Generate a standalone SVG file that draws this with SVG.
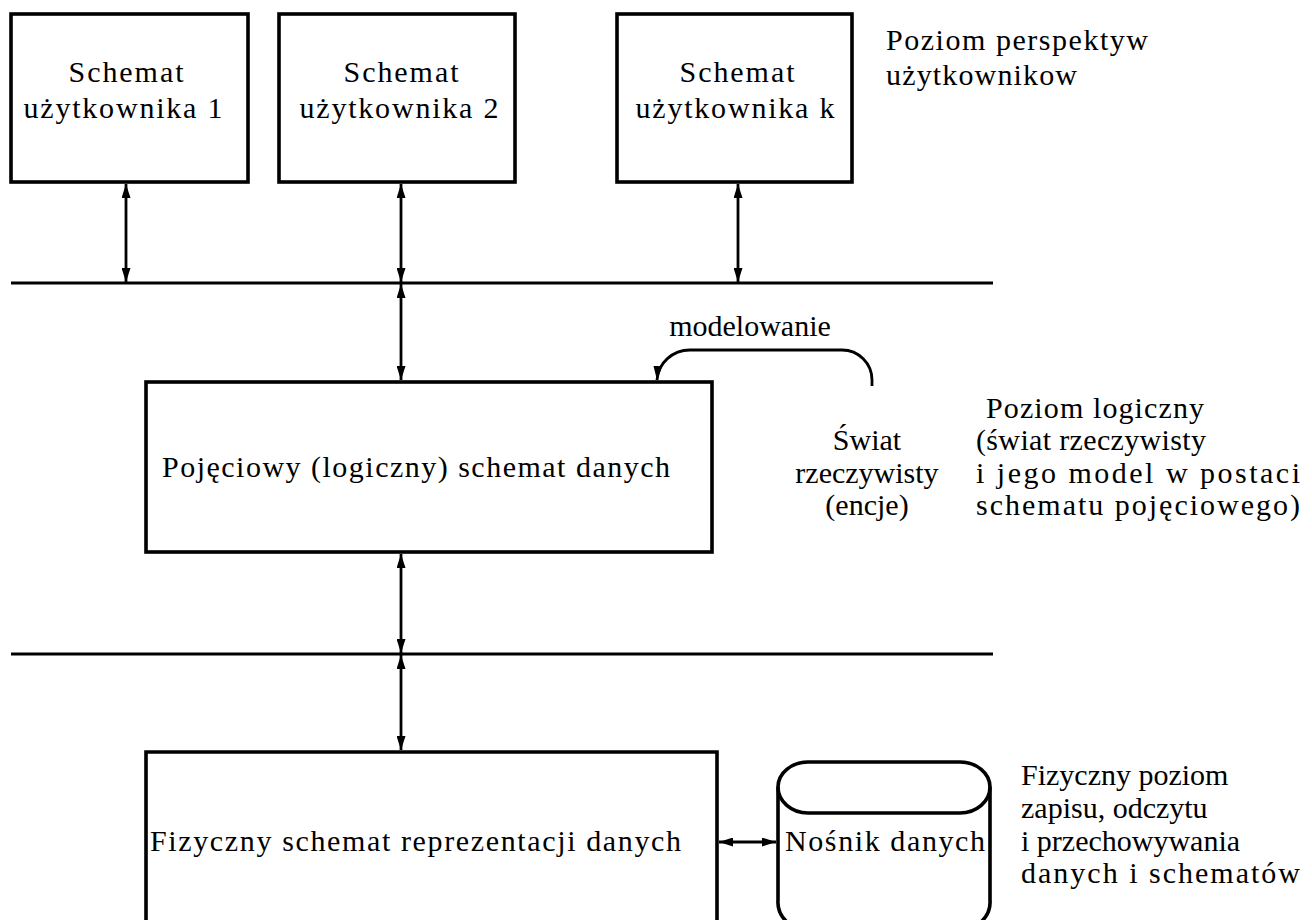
<svg xmlns="http://www.w3.org/2000/svg" width="1312" height="920" viewBox="0 0 1312 920">
<style>
.box{fill:none;stroke:#000;stroke-width:3.6}
.ln{fill:none;stroke:#000;stroke-width:2.8}
.t{font-family:"Liberation Serif","DejaVu Serif",serif;font-size:30px;fill:#000}
.c{text-anchor:middle}
</style>
<defs>
<marker id="ah" viewBox="0 0 14 9" refX="14" refY="4.5" markerWidth="14" markerHeight="9" markerUnits="userSpaceOnUse" orient="auto-start-reverse">
<path d="M0,0 L14,4.5 L0,9 Z" fill="#000"/>
</marker>
</defs>
<rect width="1312" height="920" fill="#fff"/>

<g id="connectors">
<line class="ln" x1="11" y1="283" x2="993" y2="283"/>
<line class="ln" x1="11" y1="654" x2="993" y2="654"/>
<line class="ln" x1="126" y1="184" x2="126" y2="282" marker-start="url(#ah)" marker-end="url(#ah)"/>
<line class="ln" x1="401" y1="184" x2="401" y2="282" marker-start="url(#ah)" marker-end="url(#ah)"/>
<line class="ln" x1="738" y1="184" x2="738" y2="282" marker-start="url(#ah)" marker-end="url(#ah)"/>
<line class="ln" x1="401" y1="284" x2="401" y2="380" marker-start="url(#ah)" marker-end="url(#ah)"/>
<line class="ln" x1="401" y1="554" x2="401" y2="653" marker-start="url(#ah)" marker-end="url(#ah)"/>
<line class="ln" x1="401" y1="655" x2="401" y2="750" marker-start="url(#ah)" marker-end="url(#ah)"/>
<line class="ln" x1="719" y1="842" x2="776" y2="842" marker-start="url(#ah)" marker-end="url(#ah)"/>
<path class="ln" d="M872,386 L872,380 A30,30 0 0 0 842,350 L690,350 A33,32 0 0 0 657,380" marker-end="url(#ah)"/>
</g>

<g id="user1">
<rect class="box" x="11" y="14" width="237" height="168"/>
<text class="t c" x="126" y="82" textLength="115" lengthAdjust="spacing">Schemat</text>
<text class="t c" x="123" y="118" textLength="199" lengthAdjust="spacing">użytkownika 1</text>
</g>
<g id="user2">
<rect class="box" x="279" y="14" width="236" height="168"/>
<text class="t c" x="401" y="82" textLength="115" lengthAdjust="spacing">Schemat</text>
<text class="t c" x="399" y="118" textLength="199" lengthAdjust="spacing">użytkownika 2</text>
</g>
<g id="userk">
<rect class="box" x="617" y="14" width="235" height="168"/>
<text class="t c" x="737" y="82" textLength="115" lengthAdjust="spacing">Schemat</text>
<text class="t c" x="735" y="118" textLength="199" lengthAdjust="spacing">użytkownika k</text>
</g>
<g id="label-perspektyw">
<text class="t" x="886" y="50" textLength="262" lengthAdjust="spacing">Poziom perspektyw</text>
<text class="t" x="886" y="85" textLength="191" lengthAdjust="spacing">użytkownikow</text>
</g>

<g id="logiczny">
<rect class="box" x="146" y="382" width="566" height="170"/>
<text class="t" x="162" y="477" textLength="508" lengthAdjust="spacing">Pojęciowy (logiczny) schemat danych</text>
</g>
<g id="modelowanie">
<text class="t c" x="750" y="336">modelowanie</text>
</g>
<g id="swiat">
<text class="t c" x="867" y="450">Świat</text>
<text class="t c" x="867" y="483">rzeczywisty</text>
<text class="t c" x="867" y="515">(encje)</text>
</g>
<g id="label-logiczny">
<text class="t" x="986" y="418" textLength="218" lengthAdjust="spacing">Poziom logiczny</text>
<text class="t" x="976" y="450" textLength="230" lengthAdjust="spacing">(świat rzeczywisty</text>
<text class="t" x="976" y="483" textLength="324" lengthAdjust="spacing">i jego model w postaci</text>
<text class="t" x="976" y="515" textLength="324" lengthAdjust="spacing">schematu pojęciowego)</text>
</g>

<g id="fizyczny">
<path class="box" d="M146,925 L146,752 L717,752 L717,925"/>
<text class="t" x="150" y="851" textLength="531" lengthAdjust="spacing">Fizyczny schemat reprezentacji danych</text>
</g>
<g id="nosnik">
<path class="box" d="M808,930 A30,28 0 0 1 778,900 L778,787 A30,25 0 0 1 808,762 L960,762 A30,25 0 0 1 990,787 L990,900 A30,28 0 0 1 960,930"/>
<path class="box" d="M778,787 A30,26 0 0 0 808,813 L960,813 A30,26 0 0 0 990,787"/>
<text class="t" x="785" y="851" textLength="200" lengthAdjust="spacing">Nośnik danych</text>
</g>
<g id="label-fizyczny">
<text class="t" x="1021" y="785">Fizyczny poziom</text>
<text class="t" x="1021" y="818">zapisu, odczytu</text>
<text class="t" x="1021" y="851">i przechowywania</text>
<text class="t" x="1021" y="883" textLength="279" lengthAdjust="spacing">danych i schematów</text>
</g>
</svg>
